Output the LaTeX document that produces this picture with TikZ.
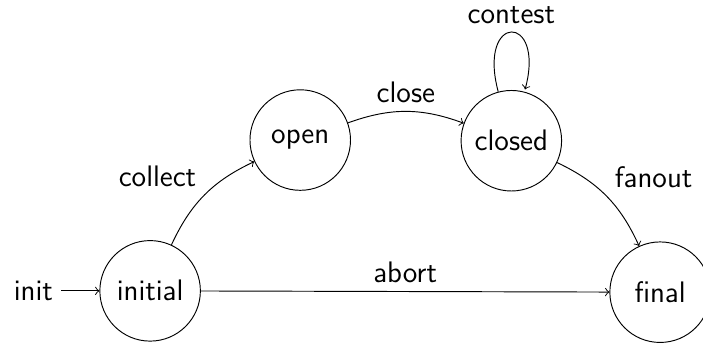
\documentclass[tikz,border=0pt]{standalone}
\usepackage{amsmath}
\usepackage{tikz}
\usetikzlibrary{arrows,automata}
\usetikzlibrary{positioning,calc}

\begin{document}
\begin{tikzpicture}[->,auto,font=\sffamily\fontsize{12.6}{15}\selectfont]
\tikzstyle{every state}=[draw,circle,minimum size=1.5cm,inner sep=0pt]
\useasboundingbox (0,0) rectangle (10.49,-5.12);
\node [state,initial,initial text=init,initial distance=0.57cm] (initial) at (2.24,-4.34) {initial};
\node [state] (open) at (4.48,-2.09) {open};
\node [state] (closed) at (7.63,-2.10) {closed};
\node [state] (final) at (9.85,-4.36) {final};
\path (initial) edge [bend left=20] node {collect} (open)
      (open) edge [bend left=20] node {close} (closed)
      (closed) edge [loop above] node {contest} (closed)
      (closed) edge [bend left=20] node {fanout} (final)
      (initial) edge node {abort} (final);
\end{tikzpicture}
\end{document}
